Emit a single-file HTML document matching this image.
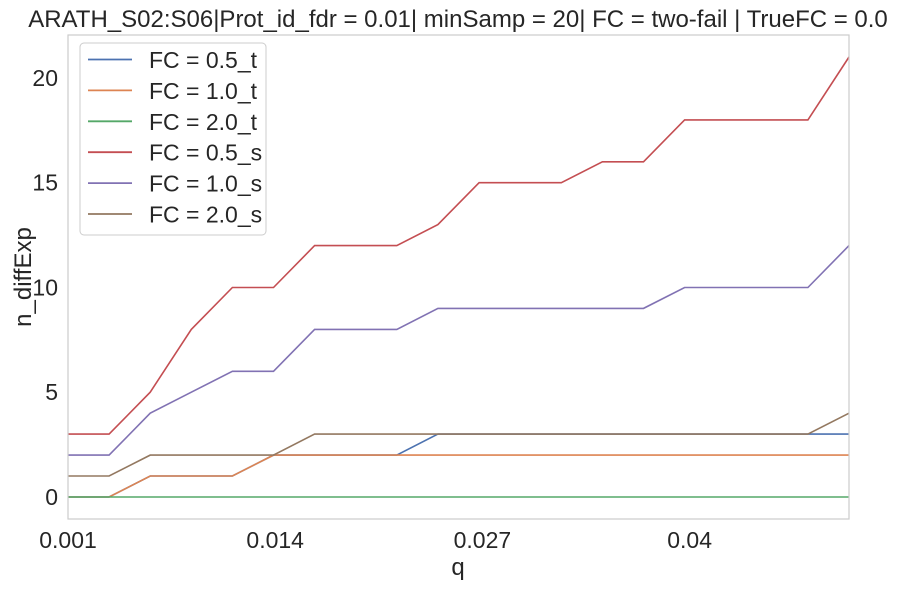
<!DOCTYPE html>
<html><head><meta charset="utf-8"><style>
body{margin:0;background:#fff;font-family:"Liberation Sans","DejaVu Sans",sans-serif}
svg text{font-family:"Liberation Sans","DejaVu Sans",sans-serif;fill:#262626}
</style></head><body>
<svg id="chart" width="897" height="584" viewBox="0 0 897 584" xmlns="http://www.w3.org/2000/svg">
<rect width="897" height="584" fill="#fff"/>
<text x="458" y="27" font-size="24" text-anchor="middle">ARATH_S02:S06|Prot_id_fdr = 0.01| minSamp = 20| FC = two-fail | TrueFC = 0.0</text>
<g id="marks"></g>
<rect x="68" y="35" width="781" height="484" fill="none" stroke="#cccccc" stroke-width="1.2"/>
<g id="ticks"></g>
<text x="458" y="575" font-size="24" text-anchor="middle">q</text>
<text transform="translate(31,277) rotate(-90)" font-size="24" text-anchor="middle">n_diffExp</text>
<g id="legend"></g>
</svg>
<script>
const qStart = 0.001, qEnd = 0.05, nPoints = 20;
const seriesNames = ["FC = 0.5_t","FC = 1.0_t","FC = 2.0_t","FC = 0.5_s","FC = 1.0_s","FC = 2.0_s"];
const s05t = [0,0,1,1,1,2,2,2,2,3,3,3,3,3,3,3,3,3,3,3];
const s10t = [0,0,1,1,1,2,2,2,2,2,2,2,2,2,2,2,2,2,2,2];
const s20t = [0,0,0,0,0,0,0,0,0,0,0,0,0,0,0,0,0,0,0,0];
const s05s = [3,3,5,8,10,10,12,12,12,13,15,15,15,16,16,18,18,18,18,21];
const s10s = [2,2,4,5,6,6,8,8,8,9,9,9,9,9,9,10,10,10,10,12];
const s20s = [1,1,2,2,2,2,3,3,3,3,3,3,3,3,3,3,3,3,3,4];
const xTicks = [0.001,0.014,0.027,0.04];
const xTickLabels = ["0.001","0.014","0.027","0.04"];
const yTicks = [0,5,10,15,20];
const colors = ["#4c72b0","#dd8452","#55a868","#c44e52","#8172b3","#937860"];
const allSeries = [s05t,s10t,s20t,s05s,s10s,s20s];
const NS="http://www.w3.org/2000/svg";
const qs = []; for(let i=0;i<nPoints;i++) qs.push(qStart+(qEnd-qStart)*i/(nPoints-1));
const X0=68,X1=849,Y0=519,Y1=35,yMin=-1.05,yMax=22.05;
const xs = q => X0+(q-qStart)/(qEnd-qStart)*(X1-X0);
const ys = v => Y0-(v-yMin)/(yMax-yMin)*(Y0-Y1);
const marks=document.getElementById('marks');
allSeries.forEach((s,k)=>{
  const p=document.createElementNS(NS,'polyline');
  p.setAttribute('points',s.map((v,i)=>xs(qs[i]).toFixed(1)+','+ys(v).toFixed(1)).join(' '));
  p.setAttribute('fill','none');p.setAttribute('stroke',colors[k]);p.setAttribute('stroke-width','1.6');
  
  
  marks.appendChild(p);
});
const ticks=document.getElementById('ticks');
xTicks.forEach((t,i)=>{
  const tx=document.createElementNS(NS,'text');
  tx.setAttribute('x',xs(t));tx.setAttribute('y',548);tx.setAttribute('font-size','23');tx.setAttribute('text-anchor','middle');
  tx.textContent=xTickLabels[i];
  
  
  ticks.appendChild(tx);
});
yTicks.forEach(t=>{
  const tx=document.createElementNS(NS,'text');
  tx.setAttribute('x',58);tx.setAttribute('y',ys(t)+8);tx.setAttribute('font-size','23');tx.setAttribute('text-anchor','end');
  tx.textContent=t;
  
  
  ticks.appendChild(tx);
});
const lg=document.getElementById('legend');
const box=document.createElementNS(NS,'rect');
box.setAttribute('x',80);box.setAttribute('y',43);box.setAttribute('width',186);box.setAttribute('height',192);box.setAttribute('rx',4);
box.setAttribute('fill','#fff');box.setAttribute('fill-opacity','0.8');box.setAttribute('stroke','#cccccc');


lg.appendChild(box);
seriesNames.forEach((n,k)=>{
  const y=59.5+k*30.9;
  const l=document.createElementNS(NS,'line');
  l.setAttribute('x1',88);l.setAttribute('x2',132);l.setAttribute('y1',y);l.setAttribute('y2',y);
  l.setAttribute('stroke',colors[k]);l.setAttribute('stroke-width','1.8');
  
  
  lg.appendChild(l);
  const t=document.createElementNS(NS,'text');
  t.setAttribute('x',149);t.setAttribute('y',y+8.5);t.setAttribute('font-size','23');
  t.textContent=n;
  
  
  lg.appendChild(t);
});
</script>
</body></html>
